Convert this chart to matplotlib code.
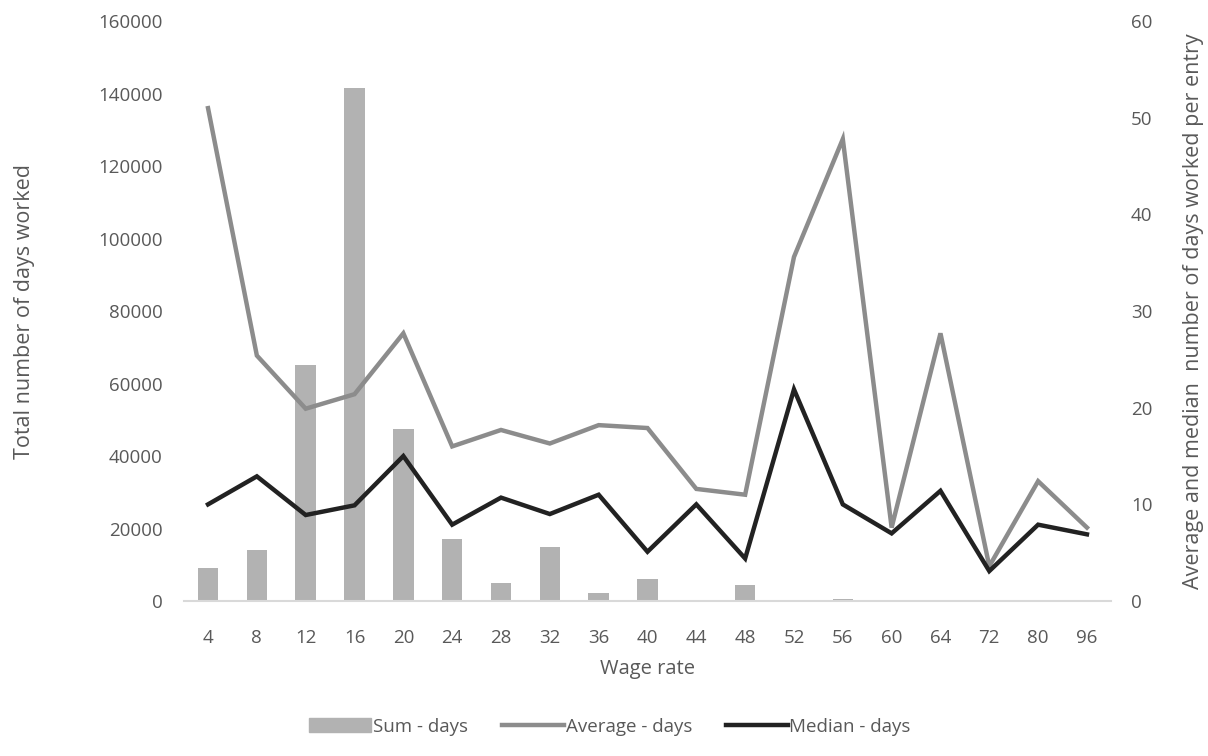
import matplotlib
matplotlib.use('Agg')

import numpy as np
import matplotlib.pyplot as plt
from matplotlib.patches import Patch
from matplotlib.lines import Line2D

# wage rate categories
wage = ["4", "8", "12", "16", "20", "24", "28", "32", "36", "40",
        "44", "48", "52", "56", "60", "64", "72", "80", "96"]

# total days worked (left axis)
sum_days = [9000, 14000, 65200, 141600, 47400, 17000, 4900, 14800, 2100, 6000,
            150, 4300, 400, 500, 0, 100, 0, 50, 0]

# average and median days per entry (right axis)
avg_days = [51.0, 25.4, 19.9, 21.4, 27.7, 16.0, 17.7, 16.3, 18.2, 17.9,
            11.6, 11.0, 35.6, 47.8, 7.6, 27.7, 3.6, 12.4, 7.6]
med_days = [10.0, 12.9, 8.9, 9.9, 15.0, 7.9, 10.7, 9.0, 11.0, 5.1,
            10.0, 4.4, 21.9, 10.0, 7.0, 11.4, 3.1, 7.9, 6.9]

txt = '#595959'
plt.rcParams['font.family'] = ['Open Sans', 'DejaVu Sans']

fig = plt.figure(figsize=(12.08, 7.56), dpi=100)
ax = fig.add_axes([0.152, 0.205, 0.768, 0.767])
x = np.arange(len(wage))

ax.bar(x, sum_days, width=0.42, color='#b2b2b2', zorder=1)
ax.set_xlim(-0.5, len(wage) - 0.5)
ax.set_ylim(0, 160000)
ax.set_yticks(np.arange(0, 160001, 20000))
ax.set_xticks(x)
ax.set_xticklabels(wage)
for s in ['top', 'right', 'left']:
    ax.spines[s].set_visible(False)
ax.spines['bottom'].set_color('#d9d9d9')
ax.spines['bottom'].set_linewidth(1.5)
ax.tick_params(axis='both', length=0, colors=txt, labelsize=13.5)
ax.tick_params(axis='x', pad=20)
ax.tick_params(axis='y', pad=15)
ax.set_xlabel("Wage rate", color=txt, fontsize=14.5, labelpad=9)
ax.set_ylabel("Total number of days worked", color=txt, fontsize=15.5)
ax.yaxis.set_label_coords(-0.16, 0.5)

ax2 = ax.twinx()
ax2.plot(x, avg_days, color='#8c8c8c', lw=3.2, solid_joinstyle='miter', zorder=3)
ax2.plot(x, med_days, color='#222222', lw=3.2, solid_joinstyle='miter', zorder=4)
ax2.set_ylim(0, 60)
ax2.set_yticks(np.arange(0, 61, 10))
for s in ['top', 'right', 'left', 'bottom']:
    ax2.spines[s].set_visible(False)
ax2.tick_params(axis='y', length=0, colors=txt, labelsize=13.5, pad=14)
ax2.set_ylabel("Average and median  number of days worked per entry", color=txt,
               fontsize=15.5)
ax2.yaxis.set_label_coords(1.077, 0.5)

handles = [Patch(color='#b2b2b2'),
           Line2D([0], [0], color='#8c8c8c', lw=3.2),
           Line2D([0], [0], color='#222222', lw=3.2)]
fig.legend(handles, ["Sum - days", "Average - days", "Median - days"],
           loc='center', bbox_to_anchor=(0.505, 0.039), ncol=3, frameon=False,
           fontsize=13.5, labelcolor=txt, handlelength=3.3, handletextpad=0.1,
           columnspacing=1.8)

fig.savefig("out.png", dpi=100)
